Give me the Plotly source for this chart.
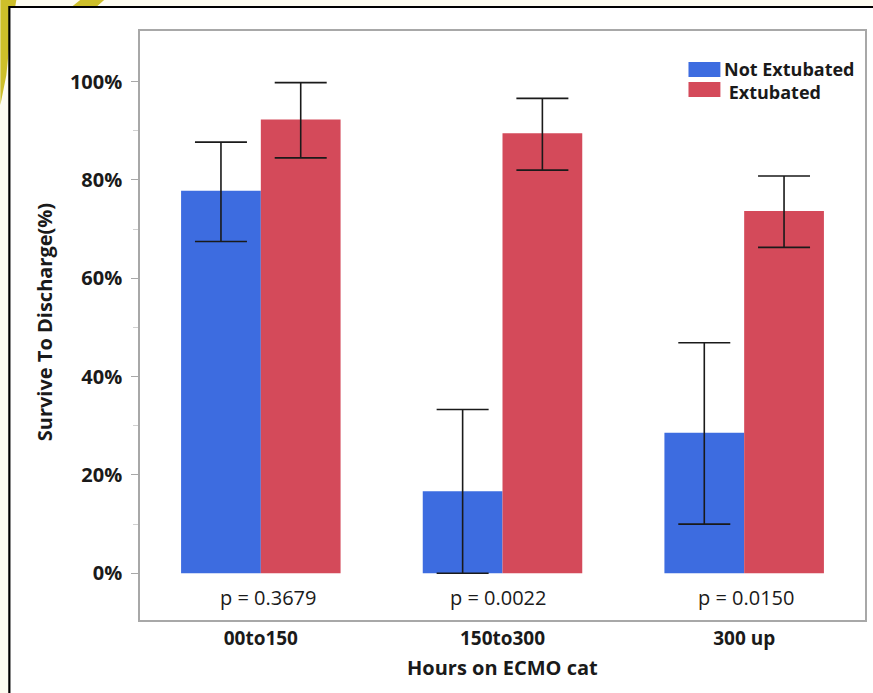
import plotly.graph_objects as go

categories = ["00to150", "150to300", "300 up"]
not_extubated = [77.8, 16.7, 28.6]
not_ext_upper = [87.7, 33.3, 46.9]
not_ext_lower = [67.5, 0.0, 10.0]
extubated = [92.3, 89.5, 73.7]
ext_upper = [99.8, 96.6, 80.8]
ext_lower = [84.5, 82.0, 66.3]
p_values = ["p = 0.3679", "p = 0.0022", "p = 0.0150"]
y_tick_vals = [0, 20, 40, 60, 80, 100]
y_tick_text = ["0%", "20%", "40%", "60%", "80%", "100%"]
series_names = ["Not Extubated", "Extubated"]

BLUE = "#3d6ce0"
RED = "#d44a5a"
FONT = "Open Sans"
TXT = "#1a1a1a"

W, H = 873, 693
L, R, T, B = 140, 867, 31, 620


def px(x):
    return (x - L) / (R - L)


def py(y):
    return (B - y) / (B - T)


fig = go.Figure()
fig.add_trace(go.Bar(
    x=categories, y=not_extubated, name=series_names[0], marker_color=BLUE,
    marker_line_width=0,
    error_y=dict(type="data", symmetric=False,
                 array=[u - v for u, v in zip(not_ext_upper, not_extubated)],
                 arrayminus=[v - l for v, l in zip(not_extubated, not_ext_lower)],
                 color=TXT, thickness=1.6, width=26),
))
fig.add_trace(go.Bar(
    x=categories, y=extubated, name=series_names[1], marker_color=RED,
    marker_line_width=0,
    error_y=dict(type="data", symmetric=False,
                 array=[u - v for u, v in zip(ext_upper, extubated)],
                 arrayminus=[v - l for v, l in zip(extubated, ext_lower)],
                 color=TXT, thickness=1.6, width=26),
))

shapes = [
    # yellow decoration outside frame
    dict(type="path", xref="paper", yref="paper", layer="below",
         path=f"M {px(0)},{py(0)} L {px(16)},{py(0)} L {px(10)},{py(35)} L {px(6)},{py(75)} L {px(0)},{py(105)} Z",
         fillcolor="#cdbf2a", line_width=0),
    dict(type="path", xref="paper", yref="paper", layer="below",
         path=f"M {px(80)},{py(0)} L {px(104)},{py(0)} L {px(95)},{py(8)} L {px(70)},{py(8)} Z",
         fillcolor="#cdbf2a", line_width=0),
    # white framed panel
    dict(type="rect", xref="paper", yref="paper", layer="below",
         x0=px(9), y0=py(7), x1=px(885), y1=py(705),
         fillcolor="white", line=dict(color="black", width=2.2)),
    # legend swatches
    dict(type="rect", xref="paper", yref="paper",
         x0=px(690), y0=py(62), x1=px(722), y1=py(77),
         fillcolor=BLUE, line_width=0),
    dict(type="rect", xref="paper", yref="paper",
         x0=px(690), y0=py(82), x1=px(722), y1=py(97),
         fillcolor=RED, line_width=0),
]

annotations = [
    dict(text=f"<b>{series_names[0]}</b><br><b>&nbsp;{series_names[1]}</b>",
         xref="paper", yref="paper", x=px(724), y=py(80),
         xanchor="left", yanchor="middle", align="left", showarrow=False,
         font=dict(family=FONT, size=18, color=TXT)),
    dict(text="<b>Hours on ECMO cat</b>", xref="paper", yref="paper", x=0.5, y=py(667),
         xanchor="center", yanchor="middle", showarrow=False,
         font=dict(family=FONT, size=20, color=TXT)),
    dict(text="<b>Survive To Discharge(%)</b>", xref="paper", yref="paper", x=px(44), y=py(322),
         textangle=-90, xanchor="center", yanchor="middle", showarrow=False,
         font=dict(family=FONT, size=20, color=TXT)),
]
shifts = [8, -4, 2]
for cat, p, s in zip(categories, p_values, shifts):
    annotations.append(dict(text=p, x=cat, y=-4.9, xref="x", yref="y",
                            xshift=s, showarrow=False, xanchor="center", yanchor="middle",
                            font=dict(family=FONT, size=20, color=TXT)))

fig.update_layout(
    width=W, height=H,
    margin=dict(l=L, r=W - R, t=T, b=H - B),
    paper_bgcolor="#fdfcf1",
    plot_bgcolor="white",
    barmode="group", bargap=0.34, bargroupgap=0,
    showlegend=False,
    shapes=shapes, annotations=annotations,
    font=dict(family=FONT, color=TXT),
)
fig.update_xaxes(
    range=[-0.5, 2.5], showgrid=False, zeroline=False,
    showline=True, linecolor="#a8a8a8", linewidth=1.5, mirror=True,
    ticks="", tickfont=dict(family=FONT, size=19, color=TXT, weight="bold"),
    ticklabelstandoff=0,
)
fig.update_yaxes(
    range=[-9.5, 110.3], showgrid=False, zeroline=False,
    showline=True, linecolor="#a8a8a8", linewidth=1.5, mirror=True,
    tickvals=y_tick_vals, ticktext=y_tick_text,
    ticks="outside", ticklen=7, tickcolor="#a8a8a8", tickwidth=1,
    minor=dict(tickvals=[10, 30, 50, 70, 90], ticks="outside", ticklen=5, tickcolor="#d0d0d0"),
    tickfont=dict(family=FONT, size=20, color=TXT, weight="bold"),
    ticklabelstandoff=5,
)

fig.write_html("out.html", config={"displayModeBar": False},
               post_script="document.body.style.margin='0';document.body.style.overflow='hidden';")
